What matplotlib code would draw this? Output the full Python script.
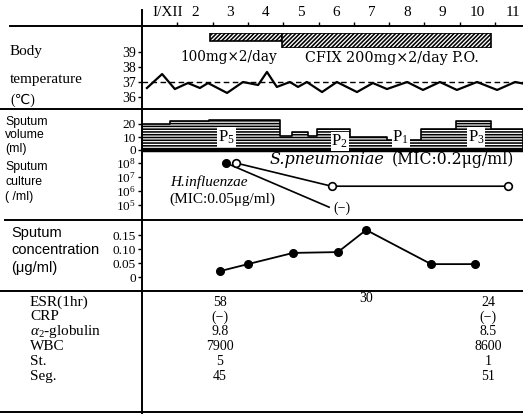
import matplotlib
matplotlib.use("Agg")
import matplotlib.pyplot as plt
import matplotlib.transforms as mtransforms
import matplotlib.ticker as ticker
from matplotlib.lines import Line2D

plt.rcParams["font.family"] = ["Liberation Serif", "DejaVu Serif"]
plt.rcParams["mathtext.fontset"] = "custom"
plt.rcParams["mathtext.rm"] = "Liberation Serif"
plt.rcParams["mathtext.it"] = "Liberation Serif:italic"
plt.rcParams["mathtext.bf"] = "Liberation Serif:bold"
plt.rcParams["hatch.linewidth"] = 1.15

# ---- data ----
day_labels = ["I/XII", "2", "3", "4", "5", "6", "7", "8", "9", "10", "11"]
label_days = [1.22, 2, 3, 4, 5, 6, 7, 8, 9, 10, 11]

dose_start = [2.43, 4.47]
dose_end = [4.47, 10.39]
dose_mg = [100, 200]
dose_text = ["100mg×2/day", "CFIX 200mg×2/day P.O."]

temp_days = [0.64, 1.07, 1.43, 1.80, 2.14, 2.37, 2.91, 3.36, 3.79, 4.04, 4.32,
             4.69, 4.92, 5.17, 5.60, 6.02, 6.59, 7.04, 7.44, 8.01, 8.46, 8.94,
             9.42, 9.99, 10.56, 11.07, 11.29]
temp_vals = [36.6, 37.53, 36.53, 36.93, 36.6, 36.93, 36.27, 37.0, 36.8, 37.67, 36.67,
             37.0, 36.67, 37.0, 36.33, 37.0, 36.33, 36.93, 36.53, 37.0, 36.47, 37.0,
             36.47, 37.0, 36.47, 37.0, 36.9]

vol_edges = [0.5, 1.3, 2.4, 4.4, 4.75, 5.2, 5.45, 6.4, 7.45, 8.4, 9.4, 10.4, 11.29]
vol_vals = [20, 22, 23, 11, 14, 11, 16, 10, 8, 16, 22, 16]
vol_labels = [r"$\mathrm{P}_5$", r"$\mathrm{P}_2$", r"$\mathrm{P}_1$", r"$\mathrm{P}_3$"]
vol_label_days = [2.9, 6.1, 7.83, 9.96]
vol_label_ml = [10, 6.5, 10, 10]

hinf_days = [2.88, 5.8]
hinf_vals = [1e8, 7e4]
spn_days = [3.16, 5.87, 10.86]
spn_vals = [1e8, 2.2e6, 2.2e6]

conc_days = [2.71, 3.5, 4.78, 6.05, 6.85, 8.69, 9.93]
conc_vals = [0.021, 0.046, 0.086, 0.089, 0.168, 0.046, 0.046]

lab_names = ["ESR(1hr)", "CRP", r"$\alpha_2$-globulin", "WBC", "St.", "Seg."]
lab_days = [2.7, 6.85, 10.3]
esr = ["58", "30", "24"]
crp = ["(−)", "", "(−)"]
a2glob = ["9.8", "", "8.5"]
wbc = ["7900", "", "8600"]
st = ["5", "", "1"]
seg = ["45", "", "51"]

# ---- layout (pixels) ----
W, H = 523, 419
X0 = 142
DAY_PX = 35.3
XLIM = (0.5, 0.5 + (W - X0) / DAY_PX)

fig = plt.figure(figsize=(W / 100, H / 100), dpi=100)


def add_ax(y0, y1):
    ax = fig.add_axes([X0 / W, 1 - y1 / H, (W - X0) / W, (y1 - y0) / H])
    ax.set_xlim(*XLIM)
    ax.set_xticks([])
    for s in ax.spines.values():
        s.set_visible(False)
    ax.patch.set_alpha(0)
    ax.tick_params(axis="y", direction="out", length=3, width=1, pad=1.5, labelsize=10)
    return ax


def hline(y, x0=0, x1=W, lw=1.4):
    fig.add_artist(Line2D([x0 / W, x1 / W], [1 - y / H, 1 - y / H], color="k", lw=lw))


def ltext(x, y, s, **kw):
    fig.text(x / W, 1 - y / H, s, ha="left", va="center", **kw)


# header
ax_head = add_ax(0, 26)
ax_head.set_yticks([])
ax_head.set_xticks([d + 0.5 for d in range(1, 11)])
ax_head.set_xticklabels([])
ax_head.tick_params(axis="x", direction="in", length=3, width=1)
tr = mtransforms.blended_transform_factory(ax_head.transData, ax_head.transAxes)
for d, lab in zip(label_days, day_labels):
    ax_head.text(d, 0.5, lab, transform=tr, ha="center", va="center", fontsize=11)

# drug bar
ax_drug = add_ax(33, 48)
ax_drug.set_ylim(0, 1)
ax_drug.set_yticks([])
for s, e, mg in zip(dose_start, dose_end, dose_mg):
    h = 0.55 if mg == 100 else 1.0
    ax_drug.bar(s, h, width=e - s, bottom=1 - h, align="edge", facecolor="white",
                edgecolor="black", lw=1.2, hatch="////////")
ax_drug.text(2.96, -0.6, dose_text[0], ha="center", va="center", fontsize=9.8,
             family="DejaVu Serif", clip_on=False)
ax_drug.text(5.12, -0.7, dose_text[1], ha="left", va="center", fontsize=10.3,
             family="DejaVu Serif", clip_on=False)

# temperature
ax_temp = add_ax(26, 109)
ax_temp.set_ylim(35.2, 37 + 56 / 15)
ax_temp.set_yticks([36, 37, 38, 39])
ax_temp.axhline(37, ls=(0, (4, 2.5)), lw=1, color="k")
ax_temp.plot(temp_days, temp_vals, color="k", lw=1.6)

# sputum volume
ax_vol = add_ax(109, 153)
ax_vol.set_ylim(-3 / 1.3, 41 / 1.3)
ax_vol.set_yticks([0, 10, 20])
ax_vol.tick_params(axis="y", labelsize=9.5)
ax_vol.fill_between(vol_edges, 0, vol_vals + [vol_vals[-1]], step="post",
                    facecolor="white", edgecolor="black", lw=1.2, hatch="------")
ax_vol.plot(XLIM, [0, 0], color="k", lw=2.5)
for lab, d, y in zip(vol_labels, vol_label_days, vol_label_ml):
    ax_vol.text(d, y, lab, ha="center", va="center", fontsize=12,
                bbox=dict(facecolor="white", edgecolor="none", pad=0.6))

# sputum culture
ax_cul = add_ax(153, 220)
ax_cul.set_yscale("log")
ax_cul.set_ylim(10 ** (5 - 15 / 14), 10 ** (8 + 10 / 14))
ax_cul.set_yticks([1e5, 1e6, 1e7, 1e8])
ax_cul.set_yticklabels([r"$10^{5}$", r"$10^{6}$", r"$10^{7}$", r"$10^{8}$"])
ax_cul.yaxis.set_minor_locator(ticker.NullLocator())
ax_cul.tick_params(axis="y", labelsize=9.5)
ax_cul.plot(hinf_days, hinf_vals, color="k", lw=1.2)
ax_cul.plot(hinf_days[:1], hinf_vals[:1], "o", color="k", ms=5.5)
ax_cul.plot(spn_days, spn_vals, color="k", lw=1.2, marker="o", ms=5.5,
            mfc="white", mec="black", mew=1.2)
ltext(270, 160, "S.pneumoniae", fontsize=11.5, family="DejaVu Serif", style="italic")
ltext(392, 160, "(MIC:0.2μg/ml)", fontsize=11.3, family="DejaVu Serif")
ltext(170, 182, "H.influenzae", fontsize=11, style="italic")
ltext(169, 199, "(MIC:0.05μg/ml)", fontsize=11)
ltext(333, 208, "(−)", fontsize=10)

# sputum concentration
ax_conc = add_ax(220, 291)
ax_conc.set_ylim(-14 / 280, 57 / 280)
ax_conc.set_yticks([0, 0.05, 0.10, 0.15])
ax_conc.set_yticklabels(["0", "0.05", "0.10", "0.15"])
ax_conc.tick_params(axis="y", labelsize=9.5)
ax_conc.plot(conc_days, conc_vals, color="k", lw=1.3, marker="o", ms=5.5)

# lab table
ax_tab = add_ax(291, 412)
ax_tab.set_ylim(7.43, -0.743)
ax_tab.set_yticks([])
rows = [esr, crp, a2glob, wbc, st, seg]
trt = mtransforms.blended_transform_factory(fig.transFigure, ax_tab.transData)
for i, (name, row) in enumerate(zip(lab_names, rows)):
    ax_tab.text(30 / W, i, name, transform=trt, ha="left", va="center", fontsize=11)
    for d, v in zip(lab_days, row):
        yy = i - 0.25 if (i == 0 and d == lab_days[1]) else i
        ax_tab.text(d, yy, v, ha="center", va="center", fontsize=10)

# left-hand row labels
ltext(10, 52, "Body", fontsize=11)
ltext(10, 80, "temperature", fontsize=11)
ltext(10, 100, "(℃)", fontsize=10, family=["Liberation Serif", "DejaVu Sans"])
for y, s in zip([122, 135, 149], ["Sputum", "volume", "(ml)"]):
    ltext(5, y, s, fontsize=8.8, family="Liberation Sans")
for y, s in zip([167, 182, 197], ["Sputum", "culture", "( /ml)"]):
    ltext(5, y, s, fontsize=8.8, family="Liberation Sans")
for y, s in zip([233, 250, 268], ["Sputum", "concentration", "(μg/ml)"]):
    ltext(11, y, s, fontsize=10.5, family="Liberation Sans")

# frame lines
hline(26, 10, W)
hline(109)
hline(220, 5, W)
hline(291)
hline(412)
fig.add_artist(Line2D([X0 / W, X0 / W], [1 - 10 / H, 1 - 413 / H], color="k", lw=1.4))

fig.savefig("out.png", dpi=100)
